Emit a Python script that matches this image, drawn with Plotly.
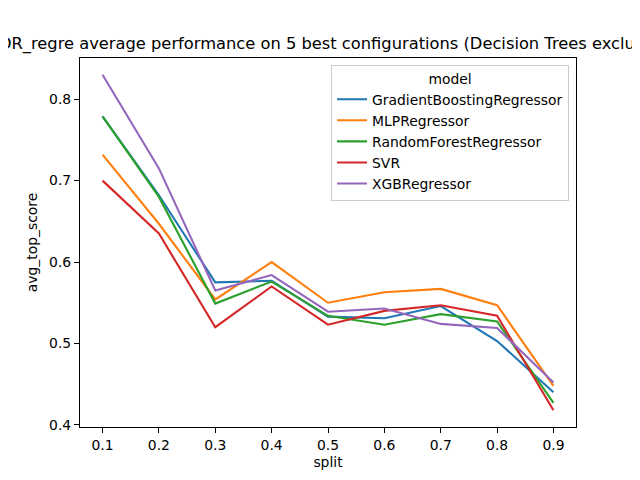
import plotly.graph_objects as go

# split values on the x axis
splits = [0.1, 0.2, 0.3, 0.4, 0.5, 0.6, 0.7, 0.8, 0.9]

# average top score per model
gbr = [0.779, 0.682, 0.575, 0.577, 0.533, 0.531, 0.546, 0.503, 0.440]
mlp = [0.732, 0.647, 0.554, 0.600, 0.550, 0.563, 0.567, 0.547, 0.448]
rfr = [0.779, 0.680, 0.549, 0.576, 0.534, 0.523, 0.536, 0.527, 0.427]
svr = [0.700, 0.635, 0.520, 0.570, 0.523, 0.540, 0.547, 0.534, 0.418]
xgb = [0.830, 0.715, 0.565, 0.584, 0.539, 0.543, 0.524, 0.519, 0.452]

models = ["GradientBoostingRegressor", "MLPRegressor", "RandomForestRegressor", "SVR", "XGBRegressor"]
scores = [gbr, mlp, rfr, svr, xgb]
colors = ["#1f77b4", "#ff7f0e", "#2ca02c", "#d62728", "#9467bd"]

title = "DR_regre average performance on 5 best configurations (Decision Trees excluded)"

font = "DejaVu Sans"
fs = 13.9  # 10pt at 100 dpi

fig = go.Figure()
for name, ys, c in zip(models, scores, colors):
    fig.add_trace(go.Scatter(x=splits, y=ys, mode="lines", name=name,
                             line=dict(color=c, width=2.1)))

axis_style = dict(
    showline=True, mirror=True, linecolor="black", linewidth=1.1,
    ticks="outside", ticklen=5, tickcolor="black", tickwidth=1.1,
    showgrid=False, zeroline=False, automargin=False,
    tickfont=dict(family=font, size=fs, color="black"),
)

# page body has an 8px margin, so the margins are shifted by 8px
fig.update_layout(
    width=640, height=480,
    margin=dict(l=72, r=72, t=50, b=61, autoexpand=False),
    plot_bgcolor="white", paper_bgcolor="white",
    font=dict(family=font, color="black"),
    xaxis=dict(axis_style, range=[0.06, 0.94], tickvals=splits,
               tickformat=".1f",
               title=dict(text="split", font=dict(family=font, size=fs), standoff=5)),
    yaxis=dict(axis_style, range=[0.3974, 0.8506], dtick=0.1, tickformat=".1f",
               title=dict(text="avg_top_score", font=dict(family=font, size=fs), standoff=8)),
    legend=dict(
        x=0.986, y=0.982, xanchor="right", yanchor="top",
        bgcolor="rgba(255,255,255,0.8)", bordercolor="#cccccc", borderwidth=1,
        font=dict(family=font, size=fs, color="black"),
        title=dict(text="model", side="top center", font=dict(family=font, size=fs)),
        itemwidth=30,
    ),
    showlegend=True,
)

# title placed like matplotlib's, which runs past the figure edges
fig.add_annotation(text=title, xref="paper", yref="paper",
                   x=-0.168, y=1.038, xanchor="left", yanchor="middle",
                   showarrow=False, font=dict(family=font, size=16.3, color="black"))

fig.write_html("out.html")
